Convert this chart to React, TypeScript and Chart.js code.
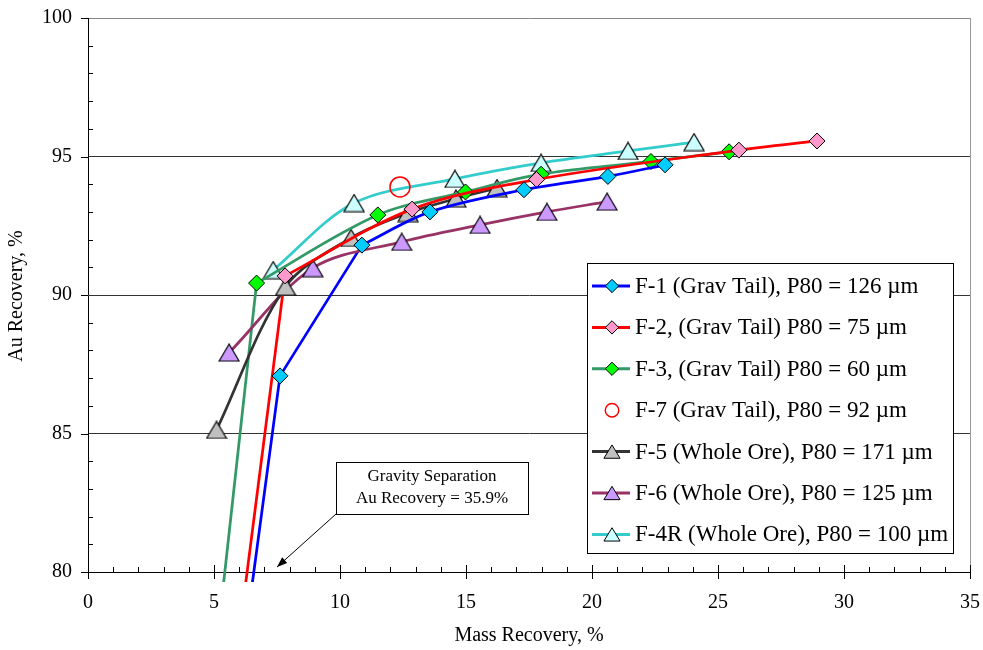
import React, { useEffect, useRef } from 'react';
import { Chart, registerables } from 'chart.js';

Chart.register(...registerables);

const SERIF = '"Liberation Serif", "Times New Roman", serif';

// ---- axis settings / labels ----
const xTitle = 'Mass Recovery, %';
const yTitle = 'Au Recovery, %';
const xMajorTicks = [0, 5, 10, 15, 20, 25, 30, 35];
const yMajorTicks = [80, 85, 90, 95, 100];

// ---- series names ----
const seriesNames = [
  'F-1 (Grav Tail), P80 = 126 µm',
  'F-2, (Grav Tail) P80 = 75 µm',
  'F-3, (Grav Tail) P80 = 60 µm',
  'F-7 (Grav Tail), P80 = 92 µm',
  'F-5 (Whole Ore), P80 = 171 µm',
  'F-6 (Whole Ore), P80 = 125 µm',
  'F-4R (Whole Ore), P80 = 100 µm',
];

// ---- data (mass recovery %, Au recovery %) ----
// grav-tail curves start at the gravity-separation point (off chart, Au 35.9 %)
const f1Mass = [0.1, 7.62, 10.87, 13.57, 17.3, 20.63, 22.9];
const f1Au = [35.9, 87.08, 91.8, 93.0, 93.8, 94.28, 94.7];

const f2Mass = [0.1, 7.82, 12.86, 17.8, 25.83, 28.93];
const f2Au = [35.9, 90.69, 93.1, 94.17, 95.23, 95.56];

const f3Mass = [0.1, 6.69, 11.5, 14.98, 17.98, 22.34, 25.44];
const f3Au = [35.9, 90.43, 92.89, 93.72, 94.36, 94.82, 95.17];

const f7Mass = [12.38];
const f7Au = [93.9];

const f5Mass = [5.1, 7.84, 10.44, 12.7, 14.6, 16.23];
const f5Au = [85.13, 90.3, 92.06, 92.96, 93.48, 93.86];

const f6Mass = [5.6, 8.92, 12.45, 15.56, 18.21, 20.6];
const f6Au = [87.92, 90.97, 91.92, 92.53, 93.0, 93.37];

const f4rMass = [7.35, 10.56, 14.56, 17.98, 21.43, 24.05];
const f4rAu = [90.9, 93.32, 94.19, 94.77, 95.2, 95.52];

// annotation
const noteLines = ['Gravity Separation', 'Au Recovery = 35.9%'];

const toPts = (xs: number[], ys: number[]) => xs.map((x, i) => ({ x, y: ys[i] }));

function makeTriangle(fill: string, w = 20, h = 17) {
  const c = document.createElement('canvas');
  c.width = w + 2;
  c.height = h + 2;
  const g = c.getContext('2d')!;
  g.beginPath();
  g.moveTo(1, h + 1);
  g.lineTo((w + 2) / 2, 1);
  g.lineTo(w + 1, h + 1);
  g.closePath();
  g.fillStyle = fill;
  g.fill();
  g.lineWidth = 1.2;
  g.strokeStyle = '#000';
  g.stroke();
  return c;
}

type MarkerKind = 'diamond' | 'circle' | 'triangle';
interface Style {
  line: string | null;
  fill: string;
  marker: MarkerKind;
  smoothFrom: number; // points before this index are joined by straight segments
}
const styles: Style[] = [
  { line: '#0000FF', fill: '#00CCFF', marker: 'diamond', smoothFrom: 2 },
  { line: '#FF0000', fill: '#FF99CC', marker: 'diamond', smoothFrom: 1 },
  { line: '#339966', fill: '#00FF00', marker: 'diamond', smoothFrom: 1 },
  { line: null, fill: '#FF0000', marker: 'circle', smoothFrom: 0 },
  { line: '#333333', fill: '#C0C0C0', marker: 'triangle', smoothFrom: 0 },
  { line: '#993366', fill: '#CC99FF', marker: 'triangle', smoothFrom: 0 },
  { line: '#33CCCC', fill: '#CCFFFF', marker: 'triangle', smoothFrom: 0 },
];

function drawMarker(ctx: CanvasRenderingContext2D, s: Style, x: number, y: number, scale: number) {
  ctx.save();
  ctx.beginPath();
  if (s.marker === 'diamond') {
    const r = 7 * scale;
    ctx.moveTo(x - r, y);
    ctx.lineTo(x, y - r);
    ctx.lineTo(x + r, y);
    ctx.lineTo(x, y + r);
    ctx.closePath();
    ctx.fillStyle = s.fill;
    ctx.fill();
    ctx.lineWidth = 1;
    ctx.strokeStyle = '#000';
    ctx.stroke();
  } else if (s.marker === 'triangle') {
    const w = 17 * scale;
    const h = 14 * scale;
    ctx.moveTo(x - w / 2, y + h / 2);
    ctx.lineTo(x, y - h / 2);
    ctx.lineTo(x + w / 2, y + h / 2);
    ctx.closePath();
    ctx.fillStyle = s.fill;
    ctx.fill();
    ctx.lineWidth = 1;
    ctx.strokeStyle = '#000';
    ctx.stroke();
  } else {
    ctx.arc(x, y, 9 * scale, 0, Math.PI * 2);
    ctx.lineWidth = 1.5;
    ctx.strokeStyle = s.fill;
    ctx.stroke();
  }
  ctx.restore();
}

const framePlugin = {
  id: 'frame',
  beforeDatasetsDraw(chart: any) {
    const { ctx, chartArea: a, scales } = chart;
    const xs = scales.x;
    const ys = scales.y;
    ctx.save();
    // right border
    ctx.strokeStyle = '#999';
    ctx.lineWidth = 1;
    ctx.beginPath();
    ctx.moveTo(Math.round(a.right) + 0.5, a.top);
    ctx.lineTo(Math.round(a.right) + 0.5, a.bottom);
    ctx.stroke();
    // x ticks
    ctx.strokeStyle = '#000';
    ctx.beginPath();
    for (let v = 0; v <= 35; v++) {
      const px = Math.round(xs.getPixelForValue(v)) + 0.5;
      const major = xMajorTicks.includes(v);
      ctx.moveTo(px, a.bottom - (major ? 7 : 5));
      ctx.lineTo(px, a.bottom + (major ? 7 : 0));
    }
    // y ticks
    for (let v = 80; v <= 100; v++) {
      const py = Math.round(ys.getPixelForValue(v)) + 0.5;
      if (yMajorTicks.includes(v)) {
        ctx.moveTo(a.left - 7, py);
        ctx.lineTo(a.left, py);
      } else {
        ctx.moveTo(a.left, py);
        ctx.lineTo(a.left + 5, py);
      }
    }
    ctx.stroke();
    ctx.restore();
  },
  afterDraw(chart: any) {
    const { ctx, chartArea: a, scales } = chart;
    const xs = scales.x;
    const ys = scales.y;
    ctx.save();
    ctx.fillStyle = '#000';
    ctx.textBaseline = 'middle';
    // axis titles
    ctx.font = `20px ${SERIF}`;
    ctx.textAlign = 'center';
    ctx.fillText(xTitle, (a.left + a.right) / 2, 636);
    ctx.save();
    ctx.translate(17, 296);
    ctx.rotate(-Math.PI / 2);
    ctx.fillText(yTitle, 0, 0);
    ctx.restore();

    // annotation box + arrow
    const bx = Math.round(xs.getPixelForValue(9.84));
    const bx2 = Math.round(xs.getPixelForValue(17.46));
    const by = Math.round(ys.getPixelForValue(83.98));
    const by2 = Math.round(ys.getPixelForValue(82.1));
    const tipX = xs.getPixelForValue(7.5);
    const tipY = ys.getPixelForValue(80.18);
    ctx.strokeStyle = '#000';
    ctx.lineWidth = 1;
    ctx.beginPath();
    ctx.moveTo(bx, by2);
    ctx.lineTo(tipX, tipY);
    ctx.stroke();
    const ang = Math.atan2(tipY - by2, tipX - bx);
    ctx.beginPath();
    ctx.moveTo(tipX, tipY);
    ctx.lineTo(tipX - 11 * Math.cos(ang - 0.35), tipY - 11 * Math.sin(ang - 0.35));
    ctx.lineTo(tipX - 11 * Math.cos(ang + 0.35), tipY - 11 * Math.sin(ang + 0.35));
    ctx.closePath();
    ctx.fill();
    ctx.fillStyle = '#fff';
    ctx.fillRect(bx, by, bx2 - bx, by2 - by);
    ctx.strokeRect(bx + 0.5, by + 0.5, bx2 - bx, by2 - by);
    ctx.fillStyle = '#000';
    ctx.font = `17px ${SERIF}`;
    ctx.fillText(noteLines[0], (bx + bx2) / 2, by + 15);
    ctx.fillText(noteLines[1], (bx + bx2) / 2, by + 37);

    // legend
    const lx = 587;
    const ly = 263;
    const lw = 366;
    const lh = 290;
    ctx.fillStyle = '#fff';
    ctx.fillRect(lx, ly, lw, lh);
    ctx.strokeStyle = '#000';
    ctx.strokeRect(lx + 0.5, ly + 0.5, lw, lh);
    ctx.font = `23px ${SERIF}`;
    ctx.textAlign = 'left';
    seriesNames.forEach((name, i) => {
      const s = styles[i];
      const cy = ly + 23 + i * 41.4;
      if (s.line) {
        ctx.strokeStyle = s.line;
        ctx.lineWidth = 3;
        ctx.beginPath();
        ctx.moveTo(lx + 5, cy);
        ctx.lineTo(lx + 43, cy);
        ctx.stroke();
      }
      drawMarker(ctx, s, lx + 25, cy, s.marker === 'circle' ? 0.75 : 0.95);
      ctx.fillStyle = '#000';
      ctx.fillText(name, lx + 48, cy + 1);
    });
    ctx.restore();
  },
};

export default function App() {
  const ref = useRef<HTMLCanvasElement | null>(null);

  useEffect(() => {
    if (!ref.current) return;
    const series = [
      toPts(f1Mass, f1Au),
      toPts(f2Mass, f2Au),
      toPts(f3Mass, f3Au),
      toPts(f7Mass, f7Au),
      toPts(f5Mass, f5Au),
      toPts(f6Mass, f6Au),
      toPts(f4rMass, f4rAu),
    ];
    const clip = { left: 0, top: 0, right: 0, bottom: 10 };
    const datasets: any[] = [];
    const leadIns: any[] = [];
    series.forEach((pts, i) => {
      const s = styles[i];
      let pointStyle: any = 'rectRot';
      let radius = 8;
      if (s.marker === 'triangle') {
        pointStyle = makeTriangle(s.fill);
        radius = 10;
      } else if (s.marker === 'circle') {
        pointStyle = 'circle';
        radius = 10;
      }
      const common = {
        borderColor: s.line || s.fill,
        borderWidth: 2.75,
        capBezierPoints: false,
        pointStyle,
        pointBackgroundColor: s.marker === 'circle' ? 'rgba(0,0,0,0)' : s.fill,
        pointBorderColor: s.marker === 'circle' ? '#FF0000' : '#000',
        pointBorderWidth: s.marker === 'circle' ? 1.5 : 1,
        clip,
        fill: false,
      };
      datasets.push({
        ...common,
        label: seriesNames[i],
        data: pts.slice(s.smoothFrom),
        showLine: !!s.line,
        tension: 0.33,
        pointRadius: radius,
      });
      if (s.smoothFrom > 0) {
        // straight lead-in from the gravity-separation point
        const lead = pts.slice(0, s.smoothFrom + 1);
        leadIns.push({
          ...common,
          label: seriesNames[i] + ' (lead-in)',
          data: lead,
          showLine: true,
          tension: 0,
          pointRadius: lead.map((_, k) => (k === 0 || k === lead.length - 1 ? 0 : radius)),
        });
      }
    });
    const chart = new Chart(ref.current, {
      type: 'scatter',
      data: { datasets: [...datasets, ...leadIns] },
      options: {
        animation: false,
        responsive: true,
        maintainAspectRatio: false,
        layout: { padding: { left: 0, top: 18, right: 13, bottom: 0 } },
        plugins: { legend: { display: false }, tooltip: { enabled: false } },
        scales: {
          x: {
            type: 'linear',
            min: 0,
            max: 35,
            ticks: {
              stepSize: 1,
              autoSkip: false,
              maxRotation: 0,
              callback: (v: any) => (xMajorTicks.includes(Number(v)) ? String(v) : ''),
              font: { family: SERIF, size: 20 },
              color: '#000',
              padding: 19,
            },
            grid: { display: true, drawOnChartArea: false, drawTicks: false },
            border: { display: true, color: '#000', width: 1 },
            afterFit: (s: any) => {
              s.height = 78;
              s.paddingLeft = 0;
              s.paddingRight = 0;
            },
          },
          y: {
            type: 'linear',
            min: 80,
            max: 100,
            ticks: {
              stepSize: 1,
              autoSkip: false,
              callback: (v: any) => (yMajorTicks.includes(Number(v)) ? String(v) : ''),
              font: { family: SERIF, size: 20 },
              color: '#000',
              padding: 16,
            },
            grid: {
              drawTicks: false,
              lineWidth: 1,
              color: (c: any) => {
                const v = c.tick && c.tick.value;
                if (v === 100) return '#888';
                if (v === 80) return 'rgba(0,0,0,0)';
                return yMajorTicks.includes(v) ? '#333' : 'rgba(0,0,0,0)';
              },
            },
            border: { display: true, color: '#000', width: 1 },
            afterFit: (s: any) => {
              s.width = 88;
              s.paddingTop = 0;
              s.paddingBottom = 0;
            },
          },
        },
      },
      plugins: [framePlugin],
    });
    return () => chart.destroy();
  }, []);

  return (
    <div style={{ position: 'absolute', left: 0, top: 0, width: 983, height: 650, background: '#fff' }}>
      <canvas ref={ref} />
    </div>
  );
}
